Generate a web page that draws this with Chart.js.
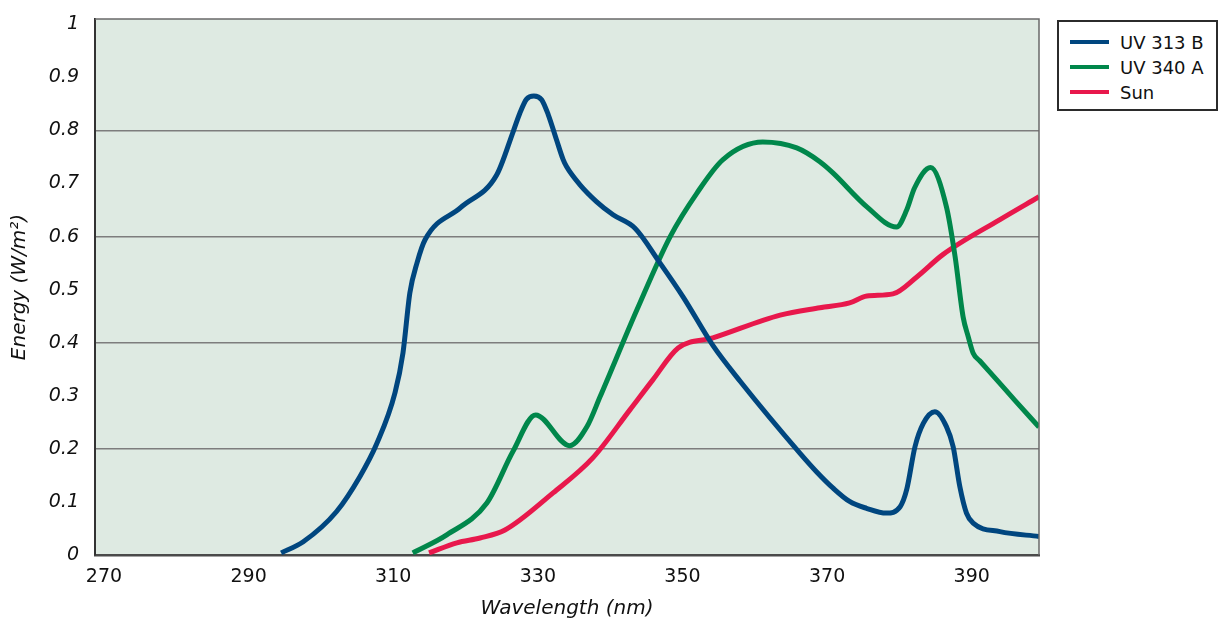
<!DOCTYPE html>
<html>
<head>
<meta charset="utf-8">
<script src="https://cdn.jsdelivr.net/npm/chart.js@4.4.1/dist/chart.umd.min.js"></script>
<style>
  html, body { margin: 0; padding: 0; background: #ffffff; }
  #wrap { position: relative; width: 1218px; height: 621px; }
  #legend {
    position: absolute; left: 1057px; top: 20px; width: 157px; height: 87px;
    border: 2px solid #2b2b2b; background: #fff;
    font-family: "DejaVu Sans", sans-serif; font-size: 18px; color: #111;
  }
  .item { position: absolute; left: 0; height: 24px; display: flex; align-items: center; white-space: nowrap; }
  .swatch { width: 39px; height: 4px; margin-left: 11px; margin-right: 11px; }
</style>
</head>
<body>
<div id="wrap">
  <canvas id="c" width="1218" height="621"></canvas>
  <div id="legend"></div>
</div>
<script>
// ---- data ----
const seriesNames = ["UV 313 B", "UV 340 A", "Sun"];
const seriesColors = ["#00467f", "#00874b", "#e8184c"];

const uvbX = [294.5, 297.56, 302.17, 305.4, 307.7, 310.25, 311.35, 312.3, 313.3, 314.4, 319.35, 324.3, 326.59, 327.52, 328.44, 329.45, 330.52, 331.43, 332.59, 333.5, 333.96, 335.8, 338.1, 340.4, 343.4, 346.9, 350.1, 354.2, 358.0, 366.23, 368.53, 370.83, 373.1, 375.45, 378.2, 380.1, 381.0, 382.15, 383.3, 384.9, 386.5, 387.43, 388.35, 389.27, 390.2, 393.9, 399.3];
const uvbY = [0.004, 0.025, 0.082, 0.148, 0.209, 0.306, 0.381, 0.494, 0.551, 0.594, 0.655, 0.716, 0.798, 0.833, 0.859, 0.865, 0.858, 0.830, 0.782, 0.745, 0.732, 0.698, 0.666, 0.641, 0.616, 0.550, 0.486, 0.395, 0.327, 0.192, 0.157, 0.126, 0.101, 0.088, 0.079, 0.091, 0.123, 0.204, 0.248, 0.270, 0.242, 0.204, 0.129, 0.079, 0.060, 0.044, 0.035];

const uvaX = [312.7, 317.4, 322.95, 326.55, 329.7, 334.4, 336.8, 338.6, 343.7, 348.3, 352.0, 355.6, 361.1, 365.8, 369.0, 370.8, 375.5, 379.6, 381.0, 382.1, 384.3, 386.5, 387.7, 388.8, 389.5, 390.2, 391.1, 393.4, 396.0, 399.3];
const uvaY = [0.004, 0.038, 0.098, 0.195, 0.264, 0.206, 0.242, 0.298, 0.462, 0.600, 0.682, 0.745, 0.778, 0.767, 0.741, 0.720, 0.656, 0.618, 0.650, 0.692, 0.730, 0.656, 0.562, 0.449, 0.412, 0.380, 0.366, 0.331, 0.291, 0.241];

const sunX = [314.95, 318.8, 322.0, 325.45, 332.1, 337.6, 342.7, 345.9, 349.4, 354.2, 363.5, 369.0, 373.1, 375.5, 379.1, 382.4, 386.0, 393.9, 399.3];
const sunY = [0.004, 0.023, 0.032, 0.047, 0.117, 0.183, 0.273, 0.330, 0.390, 0.409, 0.452, 0.466, 0.475, 0.488, 0.492, 0.524, 0.566, 0.632, 0.675];

const xTicks = [270, 290, 310, 330, 350, 370, 390];
const yTicks = [0, 0.1, 0.2, 0.3, 0.4, 0.5, 0.6, 0.7, 0.8, 0.9, 1];
const yGridAt = [0.2, 0.4, 0.6, 0.8];

const xTitle = "Wavelength (nm)";
const yTitle = "Energy (W/m²)";

// ---- build ----
const toPts = (xs, ys) => xs.map((x, i) => ({ x: x, y: ys[i] }));
const allX = [uvbX, uvaX, sunX];
const allY = [uvbY, uvaY, sunY];

const datasets = seriesNames.map((name, i) => ({
  label: name,
  data: toPts(allX[i], allY[i]),
  borderColor: seriesColors[i],
  backgroundColor: seriesColors[i],
  borderWidth: 5,
  pointRadius: 0,
  fill: false,
  cubicInterpolationMode: 'monotone',
  borderCapStyle: 'butt',
  borderJoinStyle: 'round'
}));

const plotBg = {
  id: 'plotBg',
  beforeDraw(chart) {
    const { ctx, chartArea: a } = chart;
    ctx.save();
    ctx.fillStyle = '#deeae2';
    ctx.fillRect(a.left, a.top, a.right - a.left, a.bottom - a.top);
    ctx.restore();
  },
  afterDraw(chart) {
    const { ctx, chartArea: a } = chart;
    ctx.save();
    ctx.strokeStyle = '#6a6a6a';
    ctx.lineWidth = 1.5;
    ctx.beginPath();
    ctx.moveTo(a.left, a.top);
    ctx.lineTo(a.right, a.top);
    ctx.lineTo(a.right, a.bottom);
    ctx.stroke();
    ctx.restore();
  }
};

const fam = '"DejaVu Sans", "Open Sans", sans-serif';

new Chart(document.getElementById('c'), {
  type: 'line',
  data: { datasets },
  plugins: [plotBg],
  options: {
    responsive: false,
    animation: false,
    layout: { padding: { left: 0, top: 19, right: 179, bottom: 0 } },
    plugins: { legend: { display: false }, tooltip: { enabled: false } },
    scales: {
      x: {
        type: 'linear',
        min: 268.76,
        max: 399.3,
        afterBuildTicks(s) { s.ticks = xTicks.map(v => ({ value: v })); },
        afterFit(s) { s.height = 66; },
        grid: { display: false, drawTicks: false },
        border: { display: true, color: '#4a4a4a', width: 2.5 },
        ticks: {
          color: '#111', padding: 11, maxRotation: 0, autoSkip: false,
          font: { family: fam, size: 19 },
          callback: v => String(v)
        },
        title: {
          display: true, text: xTitle, color: '#111',
          font: { family: fam, size: 20, style: 'italic' },
          padding: { top: 0, bottom: 0 }
        }
      },
      y: {
        type: 'linear',
        min: 0,
        max: 1.01,
        afterBuildTicks(s) { s.ticks = yTicks.map(v => ({ value: v })); },
        afterFit(s) { s.width = 95; s.paddingTop = 11; s.paddingBottom = 11; },
        grid: {
          drawTicks: false,
          lineWidth: 1.5,
          color: ctx => {
            const v = ctx.tick ? ctx.tick.value : -1;
            return yGridAt.some(g => Math.abs(g - v) < 1e-6) ? '#7d7d7d' : 'rgba(0,0,0,0)';
          }
        },
        border: { display: true, color: '#333', width: 2 },
        ticks: {
          color: '#111', padding: 16, autoSkip: false,
          font: { family: fam, size: 19, style: 'italic' },
          callback: v => (v === 0 ? '0' : (Math.abs(v - 1) < 1e-9 ? '1' : v.toFixed(1)))
        },
        title: {
          display: true, text: yTitle, color: '#111',
          font: { family: fam, size: 20, style: 'italic' },
          padding: { top: 8, bottom: 0 }
        }
      }
    }
  }
});

// HTML legend built from the series arrays
const lg = document.getElementById('legend');
seriesNames.forEach((name, i) => {
  const it = document.createElement('div');
  it.className = 'item';
  it.style.top = (8 + i * 25) + 'px';
  const sw = document.createElement('span');
  sw.className = 'swatch';
  sw.style.background = seriesColors[i];
  const tx = document.createElement('span');
  tx.textContent = name;
  it.appendChild(sw);
  it.appendChild(tx);
  lg.appendChild(it);
});
</script>
</body>
</html>
